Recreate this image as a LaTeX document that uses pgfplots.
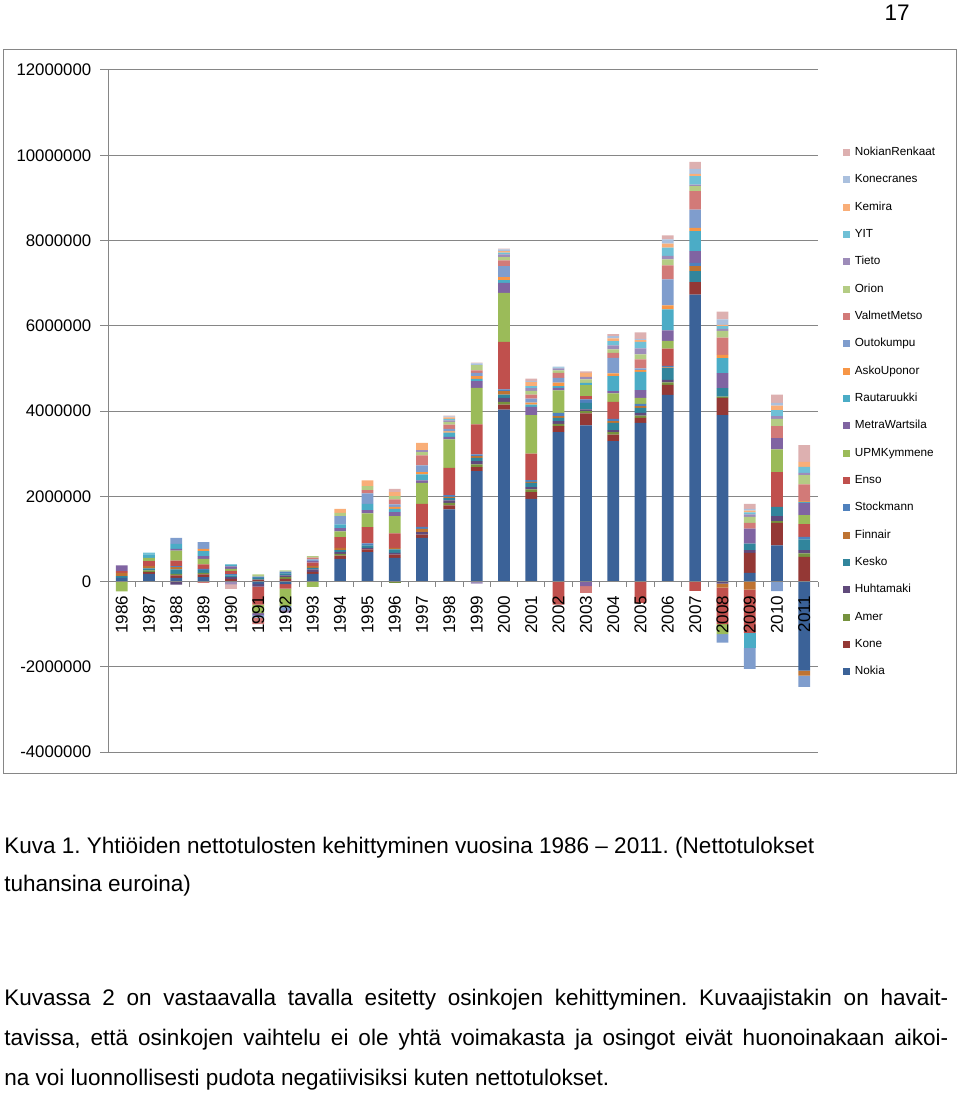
\documentclass[border=0pt]{standalone}
\usepackage{fontspec}
\setmainfont{Liberation Sans}
\usepackage{pgfplots}
\usepackage{pgfplotstable}
\pgfplotsset{compat=1.18}

\definecolor{colNokia}{RGB}{59,98,152}
\definecolor{colKone}{RGB}{148,56,53}
\definecolor{colAmer}{RGB}{118,146,62}
\definecolor{colHuhtamaki}{RGB}{96,74,123}
\definecolor{colKesko}{RGB}{49,133,156}
\definecolor{colFinnair}{RGB}{190,115,50}
\definecolor{colStockmann}{RGB}{79,129,189}
\definecolor{colEnso}{RGB}{192,80,77}
\definecolor{colUPMKymmene}{RGB}{155,187,89}
\definecolor{colMetraWartsila}{RGB}{128,100,162}
\definecolor{colRautaruukki}{RGB}{75,172,198}
\definecolor{colAskoUponor}{RGB}{247,150,70}
\definecolor{colOutokumpu}{RGB}{127,157,205}
\definecolor{colValmetMetso}{RGB}{210,122,120}
\definecolor{colOrion}{RGB}{180,204,132}
\definecolor{colTieto}{RGB}{157,140,185}
\definecolor{colYIT}{RGB}{111,192,214}
\definecolor{colKemira}{RGB}{249,174,120}
\definecolor{colKonecranes}{RGB}{170,192,222}
\definecolor{colNokianRenkaat}{RGB}{221,176,176}
\definecolor{frame}{RGB}{134,134,134}

% nettotulokset, tuhansina euroina; x = 0 ... 25 for 1986 ... 2011
\pgfplotstableread{
x Nokia Kone Amer Huhtamaki Kesko Finnair Stockmann Enso UPMKymmene MetraWartsila Rautaruukki AskoUponor Outokumpu ValmetMetso Orion Tieto YIT Kemira Konecranes NokianRenkaat
0 86000 0 0 0 40000 78000 0 40000 -230000 133000 0 0 0 0 0 0 0 0 0 0
1 180000 40000 40000 0 47000 55000 0 117000 78000 0 78000 0 0 0 0 0 40000 0 0 0
2 86000 55000 40000 -75000 102000 55000 20000 133000 235000 40000 117000 0 141000 0 0 0 0 0 0 0
3 102000 63000 40000 0 63000 0 30000 102000 133000 63000 117000 55000 156000 -30000 0 0 0 0 0 0
4 0 63000 0 40000 40000 0 30000 78000 47000 55000 47000 0 0 0 0 -70000 0 0 0 -95000
5 -60000 47000 0 -60000 40000 0 30000 -420000 -200000 -50000 0 0 -60000 -150000 48000 0 0 0 0 0
6 -60000 63000 40000 40000 47000 0 40000 -110000 -400000 0 0 0 -100000 0 30000 -60000 0 0 0 0
7 180000 47000 0 55000 40000 40000 0 78000 -125000 40000 0 0 40000 40000 37000 0 0 0 0 0
8 531000 78000 40000 40000 47000 55000 0 250000 133000 78000 86000 0 196000 0 78000 0 0 94000 0 0
9 688000 63000 0 40000 55000 0 47000 383000 320000 78000 149000 0 242000 78000 94000 0 0 133000 0 0
10 555000 78000 -40000 40000 78000 40000 0 336000 407000 94000 78000 47000 55000 117000 78000 0 0 94000 0 78000
11 1024000 78000 0 55000 0 78000 47000 540000 493000 55000 141000 55000 156000 235000 78000 47000 0 172000 0 0
12 1690000 94000 63000 55000 55000 30000 40000 641000 665000 60000 100000 30000 60000 100000 60000 40000 30000 40000 20000 20000
13 2588000 94000 63000 78000 78000 40000 40000 704000 860000 156000 55000 63000 78000 55000 126000 -50000 0 0 40000 15000
14 4035000 117000 63000 94000 78000 78000 40000 1118000 1150000 235000 63000 70000 258000 133000 78000 63000 40000 40000 40000 15000
15 1940000 156000 63000 55000 102000 20000 40000 625000 900000 196000 55000 47000 94000 94000 86000 63000 47000 102000 20000 55000
16 3503000 141000 55000 63000 78000 40000 78000 -540000 524000 63000 40000 78000 117000 117000 55000 47000 20000 0 20000 0
17 3660000 282000 55000 40000 156000 0 78000 78000 258000 -110000 55000 0 0 -155000 78000 63000 0 94000 0 30000
18 3292000 156000 55000 47000 172000 40000 55000 400000 195000 55000 352000 63000 367000 117000 78000 94000 102000 63000 55000 47000
19 3722000 117000 55000 62000 117000 40000 55000 -500000 141000 180000 430000 40000 40000 211000 117000 141000 156000 40000 30000 148000
20 4380000 235000 55000 62000 274000 20000 30000 407000 180000 250000 493000 94000 610000 328000 141000 78000 195000 94000 102000 94000
21 6733000 289000 0 0 258000 117000 78000 -220000 0 274000 469000 78000 430000 430000 117000 40000 195000 55000 117000 164000
22 3902000 407000 30000 -47000 195000 -94000 0 -860000 -235000 352000 352000 78000 -195000 407000 156000 50000 60000 30000 130000 180000
23 203000 470000 0 62000 156000 -188000 0 -1016000 0 350000 -352000 0 -493000 133000 140000 60000 50000 40000 40000 120000
24 850000 525000 40000 117000 220000 0 0 813000 532000 266000 0 0 -225000 282000 172000 62000 140000 110000 62000 195000
25 -2090000 580000 78000 78000 250000 -117000 60000 300000 210000 290000 20000 20000 -265000 390000 220000 55000 140000 117000 0 390000
}\netto

\pgfplotsset{
  chartbase/.style={
    at={(81pt,-52.5pt)}, anchor=north west,
    scale only axis, width=532.5pt, height=511.5pt,
    xmin=-0.5, xmax=25.5, ymin=-4000000, ymax=12000000,
    ybar stacked, bar width=8.8pt,
  },
}

\begin{document}
\frenchspacing
\begin{tikzpicture}[font=\fontsize{12.6}{15}\selectfont]
\useasboundingbox (0,0) rectangle (720pt,-820.5pt);
\draw[frame, line width=0.75pt] (2.25pt,-37.5pt) rectangle (717pt,-579.75pt);

% positive parts, grid, value axis, legend
\begin{axis}[chartbase,
  axis x line=none, axis y line*=left,
  xtick=\empty,
  ytick={-4000000,-2000000,0,2000000,4000000,6000000,8000000,10000000,12000000},
  ymajorgrids, grid style={frame, line width=0.75pt},
  axis line style={frame, line width=0.75pt},
  tick style={frame, line width=0.75pt},
  tick align=outside, major tick length=6pt,
  scaled y ticks=false,
  yticklabel style={/pgf/number format/fixed, /pgf/number format/1000 sep={},
    /pgf/number format/assume math mode=true, font=\fontsize{12.6}{15}\selectfont,
    xshift=-3pt},
  reverse legend, legend cell align=left,
  legend image code/.code={\fill[#1] (0pt,-2.6pt) rectangle (5.2pt,2.6pt);},
  legend style={at={(1.0352,0.887)}, anchor=north west, draw=none, fill=none,
    font=\fontsize{8.8}{10}\selectfont, inner sep=0pt, row sep=12.7pt,
    nodes={inner sep=0pt, text height=6pt, text depth=1.8pt},
    /tikz/every odd column/.append style={column sep=3.5pt}},
]
\pgfplotsinvokeforeach{Nokia,Kone,Amer,Huhtamaki,Kesko,Finnair,Stockmann,Enso,UPMKymmene,MetraWartsila,Rautaruukki,AskoUponor,Outokumpu,ValmetMetso,Orion,Tieto,YIT,Kemira,Konecranes,NokianRenkaat}{
  \addplot[fill=col#1, draw=none] table[x=x, y expr={max(\thisrow{#1},0)}] {\netto};
  \addlegendentry{#1}
}
\end{axis}

% negative parts and the category axis on top
\begin{axis}[chartbase, axis on top,
  axis y line=none, axis x line=middle,
  every inner x axis line/.append style={-},
  ytick=\empty,
  xtick={0,...,25},
  xticklabels={1986,1987,1988,1989,1990,1991,1992,1993,1994,1995,1996,1997,1998,1999,2000,2001,2002,2003,2004,2005,2006,2007,2008,2009,2010,2011},
  minor xtick={-0.5,0.5,...,25.5},
  major tick length=0pt, minor tick length=4pt, tick align=outside,
  axis line style={frame, line width=0.75pt},
  tick style={frame, line width=0.75pt},
  xticklabel style={yshift=-10.5pt, rotate=90, anchor=east, inner sep=0pt,
    font=\fontsize{12.8}{15}\selectfont},
]
\pgfplotsinvokeforeach{Nokia,Kone,Amer,Huhtamaki,Kesko,Finnair,Stockmann,Enso,UPMKymmene,MetraWartsila,Rautaruukki,AskoUponor,Outokumpu,ValmetMetso,Orion,Tieto,YIT,Kemira,Konecranes,NokianRenkaat}{
  \addplot[fill=col#1, draw=none, forget plot] table[x=x, y expr={min(\thisrow{#1},0)}] {\netto};
}
\end{axis}

\begin{scope}[every node/.style={inner sep=0pt, font=\fontsize{16.9}{20}\selectfont}]
\node[anchor=base east] at (682.5pt,-15.75pt) {17};
\node[anchor=base west] at (3pt,-639.75pt) {Kuva 1. Yhtiöiden nettotulosten kehittyminen vuosina 1986 – 2011. (Nettotulokset};
\node[anchor=base west] at (3pt,-668.25pt) {tuhansina euroina)};
\node[anchor=base west] at (3pt,-753.75pt) {\makebox[708pt][s]{Kuvassa 2 on vastaavalla tavalla esitetty osinkojen kehittyminen. Kuvaajistakin on havait-}};
\node[anchor=base west] at (3pt,-783.75pt) {\makebox[708pt][s]{tavissa, että osinkojen vaihtelu ei ole yhtä voimakasta ja osingot eivät huonoinakaan aikoi-}};
\node[anchor=base west] at (3pt,-813.75pt) {na voi luonnollisesti pudota negatiivisiksi kuten nettotulokset.};
\end{scope}
\end{tikzpicture}
\end{document}
